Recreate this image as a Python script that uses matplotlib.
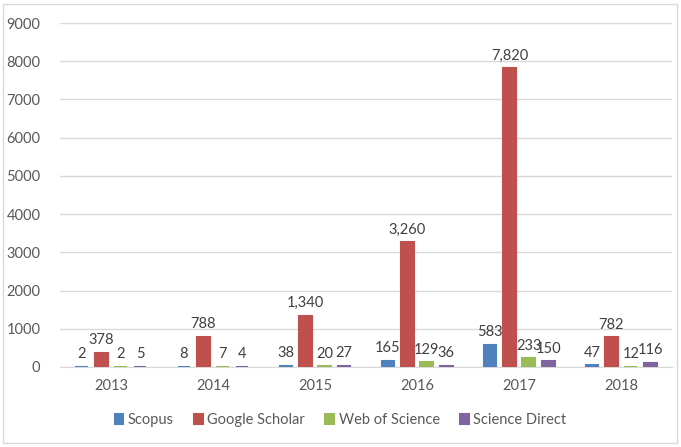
import numpy as np
import matplotlib
matplotlib.use("Agg")
import matplotlib.pyplot as plt
from matplotlib.patches import Rectangle

plt.rcParams['font.family'] = ['Lato', 'DejaVu Sans']

years = ['2013', '2014', '2015', '2016', '2017', '2018']
series = ['Scopus', 'Google Scholar', 'Web of Science', 'Science Direct']
scopus = [2, 8, 38, 165, 583, 47]
google_scholar = [378, 788, 1340, 3260, 7820, 782]
web_of_science = [2, 7, 20, 129, 233, 12]
science_direct = [5, 4, 27, 36, 150, 116]
colors = ['#4F81BD', '#C0504D', '#9BBB59', '#8064A2']

values = [scopus, google_scholar, web_of_science, science_direct]
txt = '#595959'

fig = plt.figure(figsize=(6.81, 4.47), dpi=100)
ax = fig.add_axes([0.088, 0.179, 0.899, 0.7695])

x = np.arange(len(years))
w = 0.125
step = 0.19
for i, (name, vals) in enumerate(zip(series, values)):
    # edge so the near-zero bars still show as a line, like in Excel
    bars = ax.bar(x + (i - 1.5) * step, vals, width=w, color=colors[i], label=name,
                  edgecolor=colors[i], linewidth=1.5, zorder=3)
    for b, v in zip(bars, vals):
        ax.annotate(f'{v:,}', (b.get_x() + b.get_width() / 2, v), xytext=(0, 4),
                    textcoords='offset points', ha='center', va='bottom',
                    fontsize=10.5, color='#404040')

ax.set_xlim(-0.5, 5.5)
ax.set_ylim(0, 9000)
ax.set_yticks(range(0, 9001, 1000))
ax.set_xticks(x)
ax.set_xticklabels(years)
ax.tick_params(axis='both', length=0, labelsize=10.5, colors=txt)
ax.tick_params(axis='x', pad=9)
ax.tick_params(axis='y', pad=14)
ax.grid(axis='y', color='#D9D9D9', linewidth=1, zorder=0)
for s in ['top', 'right', 'left']:
    ax.spines[s].set_visible(False)
ax.spines['bottom'].set_color('#D9D9D9')

leg = fig.legend(loc='center', bbox_to_anchor=(0.5, 0.06), ncol=4, frameon=False,
                 fontsize=10.5, handlelength=0.6, handleheight=0.6, handletextpad=0.3,
                 columnspacing=1.4)
for t in leg.get_texts():
    t.set_color(txt)

fig.patches.append(Rectangle((0.004, 0.009), 0.99, 0.982, transform=fig.transFigure,
                             fill=False, edgecolor='#D9D9D9', linewidth=1))

fig.savefig('out.png', dpi=100)
